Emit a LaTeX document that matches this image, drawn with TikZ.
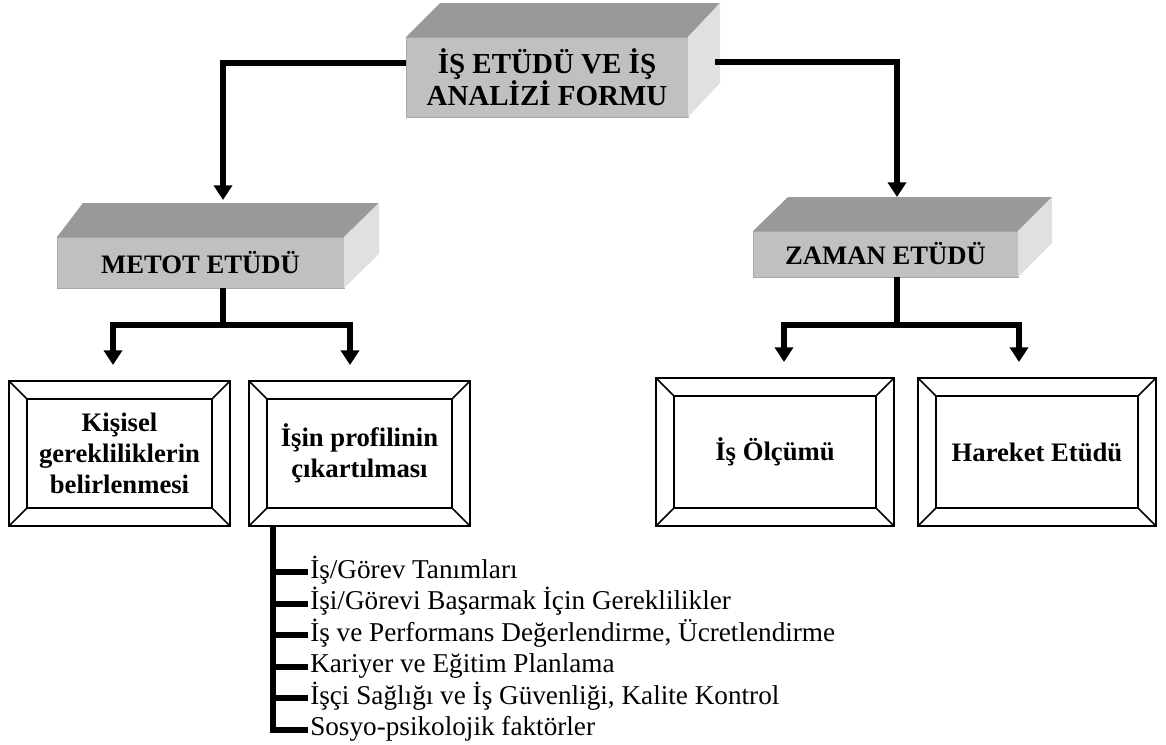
\documentclass[tikz,border=0pt]{standalone}
\usepackage{fontspec}
\setmainfont{Liberation Serif}
\usetikzlibrary{arrows.meta}
\definecolor{boxtop}{RGB}{153,153,153}
\definecolor{boxfront}{RGB}{192,192,192}
\definecolor{boxside}{RGB}{224,224,224}
\definecolor{boxedge}{RGB}{168,168,168}
\newcommand{\boxfont}{\fontsize{20}{23}\selectfont\bfseries}
\newcommand{\listfont}{\fontsize{20.4}{23}\selectfont}
\tikzset{
	solidbox/.style = {rectangle, fill=boxfront, draw=boxedge, line width=0.75pt, inner sep=0pt, outer sep=0pt, align=center, font=\boxfont},
	bevelbox/.style = {rectangle, draw=black, line width=1.1pt, inner sep=0pt, outer sep=0pt, align=center, font=\boxfont},
	listitem/.style = {anchor=west, inner sep=1.5pt, font=\listfont, text height=14pt, text depth=5pt},
	bar/.style = {draw, line width=4.5pt},
	line/.style = {bar, -{Triangle[width=13.5pt, length=11pt]}},
	fork/.style = {bar, {Triangle[width=13.5pt, length=11pt]}-{Triangle[width=13.5pt, length=11pt]}}
}

\begin{document}
\begin{tikzpicture}[x=0.75pt, y=-0.75pt]
	\useasboundingbox (0,0) rectangle (1166,744);
	% Define the 3d boxes
	\node (form) [solidbox, minimum width=211.5pt, minimum height=60pt, font=\fontsize{21.75}{22.5}\selectfont\bfseries] at (547,77) {İŞ ETÜDÜ VE İŞ\\ANALİZİ FORMU};
	\node (metot) [solidbox, minimum width=215.25pt, minimum height=38.25pt] at (200.5,262.5) {METOT ETÜDÜ};
	\node (zaman) [solidbox, minimum width=198.75pt, minimum height=34.5pt] at (885.5,254) {ZAMAN ETÜDÜ};
	\foreach \b/\l/\r in {form/34/32, metot/26/35, zaman/35/34} {
		\fill[boxtop] (\b.north west) -- ++(\l,-34) -- ([shift={(\r,-34)}]\b.north east) -- (\b.north east) -- cycle;
		\fill[boxside] (\b.north east) -- ++(\r,-34) -- ([shift={(\r,-34)}]\b.south east) -- (\b.south east) -- cycle;
	}

	% Define the framed boxes
	\node (kisisel) [bevelbox, minimum width=165.75pt, minimum height=108.75pt] at (119.5,453.5) {Kişisel\\gerekliliklerin\\belirlenmesi};
	\node (isin) [bevelbox, minimum width=165.75pt, minimum height=108.75pt] at (359.5,453.5) {İşin profilinin\\çıkartılması};
	\node (olcum) [bevelbox, minimum width=178.5pt, minimum height=111pt] at (775,452) {İş Ölçümü};
	\node (hareket) [bevelbox, minimum width=178.5pt, minimum height=111pt] at (1037,452) {Hareket Etüdü};
	\foreach \b in {kisisel, isin, olcum, hareket} {
		\draw[line width=1.1pt] ([shift={(18,18)}]\b.north west) rectangle ([shift={(-18,-18)}]\b.south east);
		\draw[line width=1.1pt] (\b.north west) -- ++(18,18) (\b.north east) -- ++(-18,18)
			(\b.south west) -- ++(18,-18) (\b.south east) -- ++(-18,-18);
	}

	% Define the list
	\node (item1) [listitem] at (308,572) {İş/Görev Tanımları};
	\node (item2) [listitem] at (308,603.5) {İşi/Görevi Başarmak İçin Gereklilikler};
	\node (item3) [listitem] at (308,635) {İş ve Performans Değerlendirme, Ücretlendirme};
	\node (item4) [listitem] at (308,666.5) {Kariyer ve Eğitim Planlama};
	\node (item5) [listitem] at (308,698) {İşçi Sağlığı ve İş Güvenliği, Kalite Kontrol};
	\node (item6) [listitem] at (308,729.5) {Sosyo-psikolojik faktörler};

	% Define the links
	\coordinate (mtop) at (223,200);
	\coordinate (ztop) at (897,197);
	\coordinate (mfork) at (223,325);
	\coordinate (zfork) at (897,325);
	\coordinate (trunk) at ([xshift=18pt]isin.south west);
	\path [line] ([yshift=10.5pt]form.west) -| (mtop);
	\path [line] ([shift={(27,-15)}]form.east) -| (ztop);
	\path [bar] (mfork |- metot.south) -- (mfork);
	\path [fork] ([shift={(-6.5,-16)}]kisisel.north) |- (mfork) -| ([shift={(-9.5,-16)}]isin.north);
	\path [bar] (zfork |- zaman.south) -- (zfork);
	\path [fork] ([shift={(9,-16)}]olcum.north) |- (zfork) -| ([shift={(-18,-16)}]hareket.north);
	\path [bar] (trunk) |- (item6.west);
	\foreach \i in {1,...,5}
		\path [bar] (trunk |- item\i.west) -- (item\i.west);
\end{tikzpicture}
\end{document}
